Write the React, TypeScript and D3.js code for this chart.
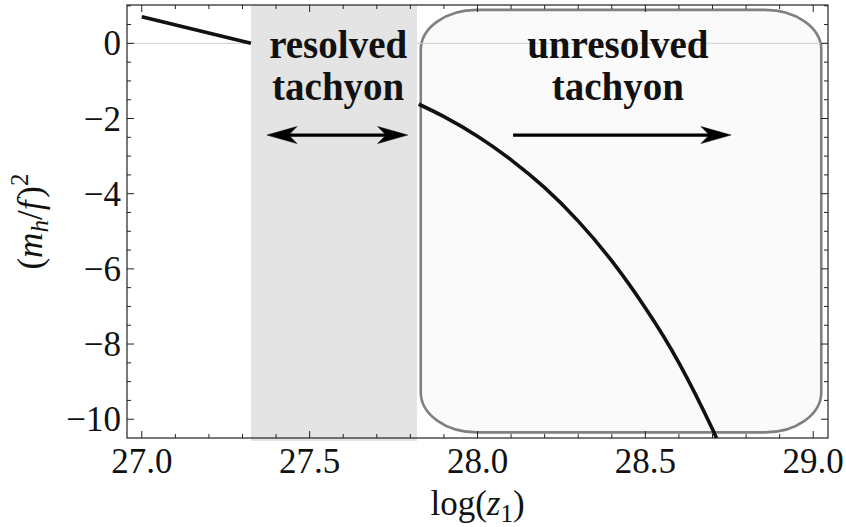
import React from "react";
import * as d3 from "d3";

const W = 846;
const H = 527;
const M = { left: 127, right: 18, top: 5, bottom: 89 };

const xDomain: [number, number] = [26.956, 29.044];
const yDomain: [number, number] = [-10.5, 1.02];

const xMajorTicks = [27.0, 27.5, 28.0, 28.5, 29.0];
const xTickLabels = ["27.0", "27.5", "28.0", "28.5", "29.0"];
const yMajorTicks = [0, -2, -4, -6, -8, -10];
const yTickLabels = ["0", "\u22122", "\u22124", "\u22126", "\u22128", "\u221210"];

// curve before the resolved-tachyon band
const curveA: [number, number][] = [
  [27.0, 0.71],
  [27.325, 0.0],
];
// curve after the band
const curveB: [number, number][] = [
  [27.825, -1.62],
  [27.9, -1.95],
  [28.0, -2.47],
  [28.1, -3.1],
  [28.2, -3.84],
  [28.3, -4.73],
  [28.4, -5.79],
  [28.5, -7.04],
  [28.6, -8.5],
  [28.7, -10.27],
  [28.75, -11.3],
];

const bandX: [number, number] = [27.325, 27.82];
const boxX: [number, number] = [27.831, 29.024];
const boxY: [number, number] = [0.89, -10.35];

const arrowY = -2.44;
const doubleArrowX: [number, number] = [27.373, 27.792];
const rightArrowX: [number, number] = [28.106, 28.755];

const labelResolved = { x: 27.585, lines: ["resolved", "tachyon"], y: [-0.39, -1.51] };
const labelUnresolved = { x: 28.418, lines: ["unresolved", "tachyon"], y: [-0.39, -1.51] };

const SERIF = "'Liberation Serif', 'DejaVu Serif', serif";
const ts: React.CSSProperties = { fontFamily: SERIF };

export default function App() {
  const x = d3.scaleLinear().domain(xDomain).range([M.left, W - M.right]);
  const y = d3.scaleLinear().domain(yDomain).range([H - M.bottom, M.top]);
  const x0 = M.left,
    x1 = W - M.right,
    y0 = M.top,
    y1 = H - M.bottom;

  const line = d3
    .line<[number, number]>()
    .x((d) => x(d[0]))
    .y((d) => y(d[1]))
    .curve(d3.curveNatural);

  const xMinor = d3.range(27.0, 29.05, 0.1).filter((v) => !xMajorTicks.some((m) => Math.abs(m - v) < 1e-6));
  const yMinor = d3.range(-10, 1.01, 0.5).filter((v) => !yMajorTicks.some((m) => Math.abs(m - v) < 1e-6));

  const majLen = 7,
    minLen = 4;

  const arrowHead = (tipX: number, tipY: number, dir: number) => {
    const L = 30,
      hw = 8.5;
    return `M${tipX},${tipY} L${tipX - dir * L},${tipY - hw} L${tipX - dir * L * 0.72},${tipY} L${tipX - dir * L},${tipY + hw} Z`;
  };

  const ay = y(arrowY);
  const bx0 = x(boxX[0]),
    bx1 = x(boxX[1]),
    by0 = y(boxY[0]),
    by1 = y(boxY[1]);

  return (
    <svg width={W} height={H} style={{ position: "absolute", left: 0, top: 0, background: "#fff" }}>
      <defs>
        <clipPath id="plotclip">
          <rect x={x0} y={y0} width={x1 - x0} height={y1 - y0} />
        </clipPath>
      </defs>
      {/* rounded box for unresolved region */}
      <rect
        x={bx0}
        y={by0}
        width={bx1 - bx0}
        height={by1 - by0}
        rx={56}
        ry={40}
        fill="#fafafa"
        stroke="#808080"
        strokeWidth={2.6}
      />
      {/* zero gridline */}
      <line x1={x0} x2={x1} y1={y(0)} y2={y(0)} stroke="#cfcfcf" strokeWidth={1} />
      {/* resolved band */}
      <rect x={x(bandX[0])} y={y0} width={x(bandX[1]) - x(bandX[0])} height={y1 - y0 + 3} fill="#e4e4e4" />

      {/* curves */}
      <g clipPath="url(#plotclip)">
        <path d={line(curveA) || ""} fill="none" stroke="#111" strokeWidth={3.6} />
        <path d={line(curveB) || ""} fill="none" stroke="#111" strokeWidth={3.6} />
      </g>

      {/* frame */}
      <rect x={x0} y={y0} width={x1 - x0} height={y1 - y0} fill="none" stroke="#222" strokeWidth={1.2} />

      {/* ticks */}
      <g stroke="#222" strokeWidth={1}>
        {xMajorTicks.map((v) => (
          <g key={"xm" + v}>
            <line x1={x(v)} x2={x(v)} y1={y1} y2={y1 - majLen} />
            <line x1={x(v)} x2={x(v)} y1={y0} y2={y0 + majLen} />
          </g>
        ))}
        {xMinor.map((v) => (
          <g key={"xn" + v}>
            <line x1={x(v)} x2={x(v)} y1={y1} y2={y1 - minLen} />
            <line x1={x(v)} x2={x(v)} y1={y0} y2={y0 + minLen} />
          </g>
        ))}
        {yMajorTicks.map((v) => (
          <g key={"ym" + v}>
            <line x1={x0} x2={x0 + majLen} y1={y(v)} y2={y(v)} />
            <line x1={x1} x2={x1 - majLen} y1={y(v)} y2={y(v)} />
          </g>
        ))}
        {yMinor.map((v) => (
          <g key={"yn" + v}>
            <line x1={x0} x2={x0 + minLen} y1={y(v)} y2={y(v)} />
            <line x1={x1} x2={x1 - minLen} y1={y(v)} y2={y(v)} />
          </g>
        ))}
      </g>

      {/* tick labels */}
      {xMajorTicks.map((v, i) => (
        <text key={"xl" + v} x={x(v)} y={y1 + 35} textAnchor="middle" fontSize={35} fill="#111" style={ts}>
          {xTickLabels[i]}
        </text>
      ))}
      {yMajorTicks.map((v, i) => (
        <text key={"yl" + v} x={x0 - 6} y={y(v) + 12} textAnchor="end" fontSize={35} fill="#111" style={ts}>
          {yTickLabels[i]}
        </text>
      ))}

      {/* axis labels */}
      <text x={(x0 + x1) / 2} y={515} textAnchor="middle" fontSize={35} fill="#111" style={ts}>
        log(
        <tspan fontStyle="italic">z</tspan>
        <tspan fontSize={25} dy={7}>
          1
        </tspan>
        <tspan dy={-7}>)</tspan>
      </text>
      <text
        transform={`translate(42,${(y0 + y1) / 2}) rotate(-90)`}
        textAnchor="middle"
        fontSize={35}
        fill="#111"
        style={ts}
      >
        (<tspan fontStyle="italic">m</tspan>
        <tspan fontStyle="italic" fontSize={25} dy={6}>
          h
        </tspan>
        <tspan dy={-6}>/</tspan>
        <tspan fontStyle="italic">f</tspan>
        <tspan dx={3}>)</tspan>
        <tspan fontSize={25} dy={-14}>
          2
        </tspan>
      </text>

      {/* annotations */}
      {labelResolved.lines.map((t, i) => (
        <text
          key={"r" + i}
          x={x(labelResolved.x)}
          y={y(labelResolved.y[i])}
          fontSize={39}
          fontWeight="bold"
          fill="#111"
          textAnchor="middle"
          style={ts}
        >
          {t}
        </text>
      ))}
      {labelUnresolved.lines.map((t, i) => (
        <text
          key={"u" + i}
          x={x(labelUnresolved.x)}
          y={y(labelUnresolved.y[i])}
          fontSize={39}
          fontWeight="bold"
          fill="#111"
          textAnchor="middle"
          style={ts}
        >
          {t}
        </text>
      ))}
      <g fill="#000" stroke="#000">
        <line x1={x(doubleArrowX[0]) + 15} x2={x(doubleArrowX[1]) - 15} y1={ay} y2={ay} strokeWidth={3.2} />
        <path d={arrowHead(x(doubleArrowX[1]), ay, 1)} strokeWidth={0.5} />
        <path d={arrowHead(x(doubleArrowX[0]), ay, -1)} strokeWidth={0.5} />
        <line x1={x(rightArrowX[0])} x2={x(rightArrowX[1]) - 15} y1={ay} y2={ay} strokeWidth={3.2} />
        <path d={arrowHead(x(rightArrowX[1]), ay, 1)} strokeWidth={0.5} />
      </g>
    </svg>
  );
}
